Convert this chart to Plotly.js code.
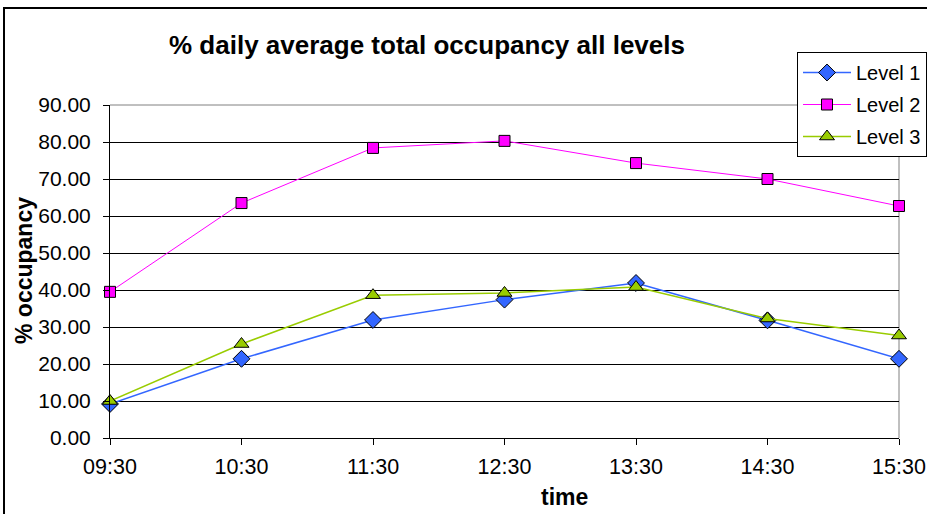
<!DOCTYPE html>
<html><head><meta charset="utf-8">
<script src="https://cdn.plot.ly/plotly-3.0.1.min.js"></script>
<style>html,body{margin:0;padding:0;background:#fff;}#chart{width:927px;height:514px;}</style>
</head><body><div id="chart"></div>
<script>
const times = ["09:30","10:30","11:30","12:30","13:30","14:30","15:30"];
const level1 = [9.2, 21.4, 31.9, 37.4, 41.9, 31.8, 21.4];
const level2 = [39.5, 63.5, 78.4, 80.3, 74.3, 70.0, 62.7];
const level3 = [10.0, 25.4, 38.6, 39.2, 40.8, 32.3, 27.7];
const seriesNames = ["Level 1","Level 2","Level 3"];
const yTicks = [0,10,20,30,40,50,60,70,80,90];

const FONT = "Liberation Sans, Arial, sans-serif";
const xIdx = times.map((t,i)=>i);

function tr(name, y, color, lineW, sym, size, grp){
  return {x: xIdx, y: y, name: name, type:'scatter', mode:'lines+markers',
    legendgroup: grp, cliponaxis:false,
    line:{color:color, width:lineW},
    marker:{symbol:sym, size:size, color:color, line:{color:'#000', width:1}}};
}
const data = [
  tr(seriesNames[0], level1, '#3366FF', 1.5, 'diamond', 13, 'a'),
  tr(seriesNames[1], level2, '#FF00FF', 1, 'square', 11, 'b'),
  tr(seriesNames[2], level3, '#99CC00', 1.5, 'triangle-up', 13, 'c')
];
// the plot area: x 110..899, y 105..438
const PW = 789, PH = 333;
const px = v => (v-110)/PW, py = v => (438-v)/PH;
const layout = {
  width:927, height:514,
  margin:{l:110, r:28, t:105, b:76, pad:0, autoexpand:false},
  paper_bgcolor:'#fff', plot_bgcolor:'#fff',
  font:{family:FONT, size:21, color:'#000'},
  title:{text:'<b>% daily average total occupancy all levels</b>', font:{family:FONT, size:26, color:'#000'},
    x:px(427), xref:'paper', xanchor:'center', y:1-45/514, yref:'container', yanchor:'middle'},
  xaxis:{type:'linear', range:[0,6], tickvals:xIdx, ticktext:times, showgrid:false, zeroline:false,
    showline:true, linecolor:'#000', linewidth:1, ticks:'outside', ticklen:6, tickcolor:'#000',
    ticklabelstandoff:3, tickfont:{family:FONT, size:21.5}},
  yaxis:{range:[0,90], tickvals:yTicks, tickformat:'.2f', showgrid:true, gridcolor:'#000', gridwidth:1,
    zeroline:false, showline:true, linecolor:'#000', linewidth:1, ticks:'outside', ticklen:6, tickcolor:'#000',
    ticklabelstandoff:8, tickfont:{family:FONT, size:21}},
  showlegend:true,
  legend:{x:px(797), xanchor:'left', y:py(52), yanchor:'top', bgcolor:'#fff', bordercolor:'#000', borderwidth:1,
    font:{family:FONT, size:20}, tracegroupgap:3, itemwidth:48},
  annotations:[
    {text:'<b>% occupancy</b>', xref:'paper', yref:'paper', x:px(24), y:py(271), textangle:-90,
      showarrow:false, font:{family:FONT, size:23}, xanchor:'center', yanchor:'middle'},
    {text:'<b>time</b>', xref:'paper', yref:'paper', x:px(564), y:py(497), showarrow:false,
      font:{family:FONT, size:23}, xanchor:'center', yanchor:'middle'}
  ],
  shapes:[
    {type:'rect', xref:'paper', yref:'paper', x0:px(4), x1:px(935), y0:py(525), y1:py(8), line:{color:'#000', width:2}, layer:'below'},
    {type:'line', xref:'paper', yref:'paper', x0:0, x1:1, y0:1, y1:1, line:{color:'#808080', width:1}, layer:'above'},
    {type:'line', xref:'paper', yref:'paper', x0:1, x1:1, y0:0, y1:1, line:{color:'#808080', width:1}, layer:'below'}
  ]
};
Plotly.newPlot('chart', data, layout, {displayModeBar:false, staticPlot:true});
</script></body></html>
